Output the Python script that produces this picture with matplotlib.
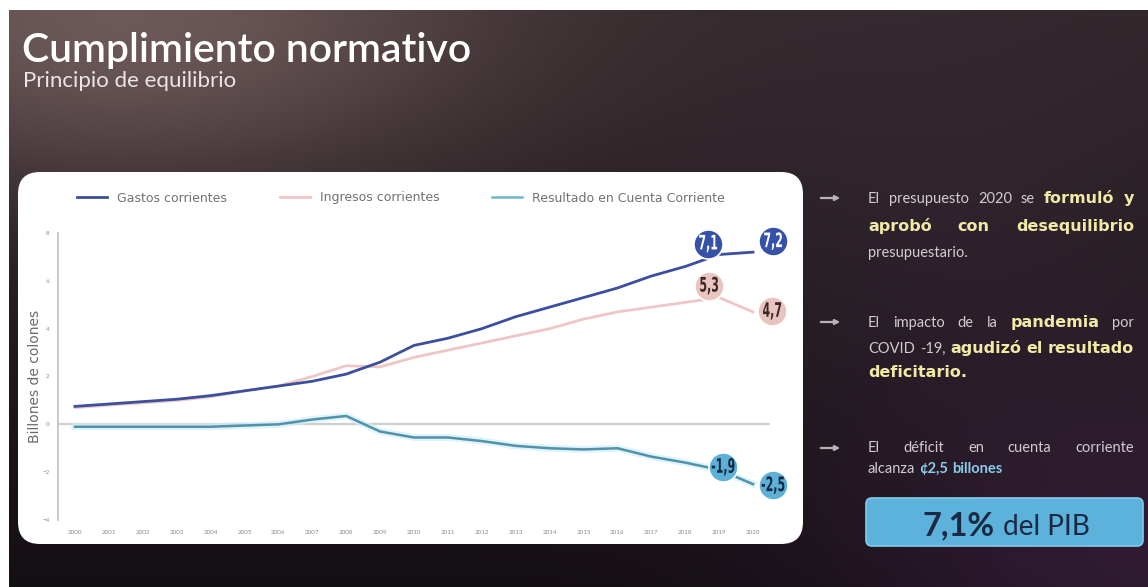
import numpy as np
import matplotlib.pyplot as plt
from matplotlib.patches import FancyBboxPatch, Rectangle, PathPatch
from matplotlib.transforms import Affine2D, ScaledTranslation
from matplotlib.textpath import TextPath
from matplotlib.font_manager import FontProperties

plt.rcParams['font.family'] = ['Lato', 'DejaVu Sans']

# series (billones de colones)
years = list(range(2000, 2021))
gastos = [0.75, 0.85, 0.95, 1.05, 1.2, 1.4, 1.6, 1.8, 2.1, 2.6, 3.3, 3.6, 4.0, 4.5, 4.9, 5.3, 5.7, 6.2, 6.6, 7.1, 7.2]
ingresos = [0.7, 0.8, 0.9, 1.0, 1.15, 1.4, 1.6, 2.0, 2.45, 2.4, 2.8, 3.1, 3.4, 3.7, 4.0, 4.4, 4.7, 4.9, 5.1, 5.3, 4.7]
resultado = [-0.1, -0.1, -0.1, -0.1, -0.1, -0.05, 0.0, 0.2, 0.35, -0.3, -0.55, -0.55, -0.7, -0.9, -1.0, -1.05, -1.0, -1.35, -1.6, -1.9, -2.5]
labels = ['Gastos corrientes', 'Ingresos corrientes', 'Resultado en Cuenta Corriente']
yticks = [-4, -2, 0, 2, 4, 6, 8]

W, H = 1148, 587
fig = plt.figure(figsize=(W / 100, H / 100), dpi=100)

# dark slide background with a warm glow top-left
yy, xx = np.mgrid[0:H, 0:W].astype(float)
t = yy / H
img = np.zeros((H, W, 3))
top = np.array([0.19, 0.15, 0.16])
bot = np.array([0.08, 0.06, 0.08])
for c in range(3):
    img[..., c] = top[c] * (1 - t) + bot[c] * t
glow = np.exp(-(((xx - 120) / 380) ** 2 + ((yy - 30) / 170) ** 2))
img += glow[..., None] * np.array([0.24, 0.20, 0.19])
purple = np.exp(-(((xx - 1150) / 300) ** 2 + ((yy - 580) / 200) ** 2))
img += purple[..., None] * np.array([0.10, 0.04, 0.11])
mid = np.exp(-(((xx - 950) / 250) ** 2 + ((yy - 200) / 250) ** 2))
img += mid[..., None] * np.array([0.03, 0.02, 0.04])
img = np.clip(img, 0, 1)

bg = fig.add_axes([0, 0, 1, 1])
bg.imshow(img, extent=(0, W, H, 0), aspect='auto', zorder=0)
bg.set_xlim(0, W)
bg.set_ylim(H, 0)
bg.axis('off')
bg.add_patch(Rectangle((0, 0), W, 10, fc='white', ec='none', zorder=1))
bg.add_patch(Rectangle((0, 0), 9, H, fc='white', ec='none', zorder=1))

# white card behind the chart
bg.add_patch(FancyBboxPatch((18, 172), 785, 372, boxstyle='round,pad=0,rounding_size=22',
                            fc='white', ec='none', zorder=2))

r = fig.canvas.get_renderer()


def fit(txt, width):
    w = txt.get_window_extent(r).width
    txt.set_fontsize(txt.get_fontsize() * width / w)


title = bg.text(22, 62, 'Cumplimiento normativo', color='white', fontsize=28,
                fontweight='semibold', va='baseline', zorder=3)
fit(title, 450)
sub = bg.text(23, 87, 'Principio de equilibrio', color='#ebe5e6', fontsize=12,
              va='baseline', zorder=3)
fit(sub, 212)

# chart
ax = fig.add_axes([58 / W, (H - 520) / H, 712 / W, 287 / H])
ax.set_facecolor('none')
ax.set_xlim(1999.5, 2020.5)
ax.set_ylim(-4, 8)
for s in ['top', 'right', 'bottom']:
    ax.spines[s].set_visible(False)
ax.spines['left'].set_color('#c4c4c4')
ax.spines['left'].set_linewidth(1.3)
ax.set_yticks(yticks)
ax.set_xticks(years)
ax.tick_params(length=0, labelsize=4.5, labelcolor='#8a8a8a')
ax.tick_params(axis='y', pad=6)
ax.tick_params(axis='x', pad=7)
ax.set_ylabel('Billones de colones', fontsize=10, color='#6b6b6b', labelpad=0,
              family='DejaVu Sans')
ax.axhline(0, color='#cfcfcf', lw=1.6, zorder=1)

l1, = ax.plot(years, gastos, color='#3b4f9e', lw=2.0, zorder=3)
l2, = ax.plot(years, ingresos, color='#efc6c6', lw=2.0, zorder=2)
ax.plot(years, resultado, color='#d3eef7', lw=5, alpha=0.7, zorder=2)
l3, = ax.plot(years, resultado, color='#4f92ad', lw=1.8, zorder=3)

leg = fig.legend([l1, l2, l3], labels, loc='center left', bbox_to_anchor=(66 / W, 1 - 198 / H),
                 ncol=3, frameon=False, prop={'family': 'DejaVu Sans', 'size': 9.0},
                 handlelength=2.4, handletextpad=0.8, columnspacing=4.2,
                 labelcolor='#727272')
leg.legend_handles[2].set_color('#6fb4d0')

# value bubbles on the last two years, with narrow digits
bubble_font = FontProperties(family='DejaVu Sans', weight='bold')
bubbles = [
    (gastos, '#3552a8', 'white', [(-11, 11), (20, 11)]),
    (ingresos, '#e9c5c1', '#3a2626', [(-10, 12), (19, 1)]),
    (resultado, '#5fb0d8', '#0f2c44', [(4, 3), (20, -1)]),
]
for series, fc, tc, offs in bubbles:
    for i, (dx, dy) in zip([-2, -1], offs):
        v = series[i]
        anchor = ScaledTranslation(years[i], v, ax.transData)
        ax.scatter([0], [0], s=440, color=fc, edgecolors='white', linewidths=1.2,
                   transform=Affine2D().translate(dx, dy) + anchor, zorder=5, clip_on=False)
        tp = TextPath((0, 0), f'{v:.1f}'.replace('.', ','), size=20, prop=bubble_font)
        bb = tp.get_extents()
        tr = (Affine2D().translate(-(bb.x0 + bb.x1) / 2, -(bb.y0 + bb.y1) / 2)
              .scale(0.55, 1.0).translate(dx, dy) + anchor)
        ax.add_artist(PathPatch(tp, transform=tr, fc=tc, ec='none', zorder=6, clip_on=False))

# right-hand notes
reg = dict(fontsize=10.5, color='#d2cbcf')
hl = dict(fontsize=11.5, color='#f1eaa6', fontweight='bold', family='DejaVu Sans')
blu = dict(fontsize=10.5, color='#8ccbea', fontweight='bold')


def put_line(words, y, x0=868, x1=1134, justify=True):
    ws = []
    for w, st in words:
        tt = bg.text(0, 0, w, **st)
        ws.append(tt.get_window_extent(r).width)
        tt.remove()
    gap = (x1 - x0 - sum(ws)) / (len(words) - 1) if justify and len(words) > 1 else 4
    x = x0
    for (w, st), wd in zip(words, ws):
        bg.text(x, y, w, va='baseline', ha='left', zorder=3, **st)
        x += wd + gap


def arrow(y):
    bg.annotate('', xy=(843, y), xytext=(818, y), zorder=3,
                arrowprops=dict(arrowstyle='-|>', color='#b9b3b8', lw=1.6, mutation_scale=7))


arrow(198)
put_line([('El', reg), ('presupuesto', reg), ('2020', reg), ('se', reg), ('formuló', hl), ('y', hl)], 203)
put_line([('aprobó', hl), ('con', hl), ('desequilibrio', hl)], 231)
put_line([('presupuestario.', reg)], 257, justify=False)

arrow(322)
put_line([('El', reg), ('impacto', reg), ('de', reg), ('la', reg), ('pandemia', hl), ('por', reg)], 327)
put_line([('COVID', reg), ('-19,', reg), ('agudizó', hl), ('el', hl), ('resultado', hl)], 353)
put_line([('deficitario.', hl)], 377, justify=False)

arrow(448)
put_line([('El', reg), ('déficit', reg), ('en', reg), ('cuenta', reg), ('corriente', reg)], 452)
put_line([('alcanza', reg), ('¢2,5', blu), ('billones', blu)], 473, justify=False)

bg.add_patch(FancyBboxPatch((866, 498), 277, 48, boxstyle='round,pad=0,rounding_size=6',
                            fc='#5cb2da', ec='#86cbea', lw=1.2, zorder=3))
big = bg.text(923, 535, '7,1%', fontsize=21, fontweight='bold', color='#1b2a44', va='baseline', zorder=4)
fit(big, 72)
small = bg.text(1003, 535, 'del PIB', fontsize=16, color='#1b2a44', va='baseline', zorder=4)
fit(small, 87)

fig.savefig('out.png', dpi=100)
